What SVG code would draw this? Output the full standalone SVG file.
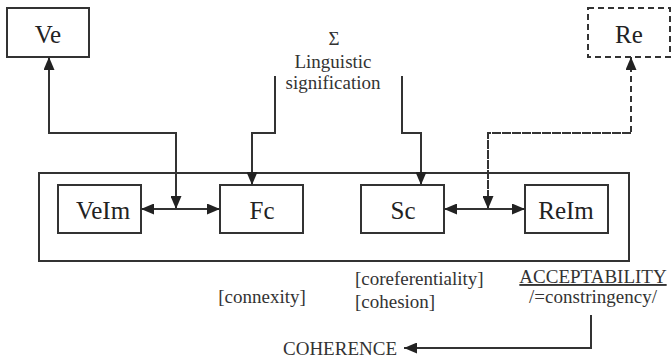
<svg xmlns="http://www.w3.org/2000/svg" width="671" height="359" viewBox="0 0 671 359">
<defs>
<marker id="ah" markerUnits="userSpaceOnUse" markerWidth="13" markerHeight="11" refX="13" refY="5.5" orient="auto-start-reverse" viewBox="0 0 13 11">
<path d="M0,0 L13,5.5 L0,11 z" fill="#222"/>
</marker>
</defs>
<style>
.box{fill:#fff;stroke:#333;stroke-width:2}
.dash{stroke-dasharray:6 4}
.lbl{font-family:"Liberation Serif","Times New Roman",serif;font-size:25px;fill:#222;text-anchor:middle}
.txt{font-family:"Liberation Serif","Times New Roman",serif;font-size:19px;fill:#333}
.c{text-anchor:middle}
.ln{fill:none;stroke:#333;stroke-width:2}
</style>
<rect width="671" height="359" fill="#fff"/>
<g id="frame"><rect class="box" x="39" y="173" width="590" height="88"/></g>
<g id="Ve"><rect class="box" x="7" y="8" width="82" height="49"/><text class="lbl" x="48" y="43">Ve</text></g>
<g id="Re"><rect class="box dash" x="588" y="8" width="82" height="49"/><text class="lbl" x="629" y="43">Re</text></g>
<g id="VeIm"><rect class="box" x="58" y="185" width="83" height="48"/><text class="lbl" x="103" y="219">VeIm</text></g>
<g id="Fc"><rect class="box" x="220" y="185" width="83" height="48"/><text class="lbl" x="262" y="219">Fc</text></g>
<g id="Sc"><rect class="box" x="361" y="185" width="83" height="48"/><text class="lbl" x="403" y="219">Sc</text></g>
<g id="ReIm"><rect class="box" x="525" y="185" width="83" height="48"/><text class="lbl" x="566" y="219">ReIm</text></g>
<g id="signification"><text class="txt c" x="334" y="45">Σ</text><text class="txt c" x="333" y="68">Linguistic</text><text class="txt c" x="333" y="89">signification</text></g>
<g id="labels">
<text class="txt c" x="262" y="303">[connexity]</text>
<text class="txt" x="355" y="285">[coreferentiality]</text>
<text class="txt" x="355" y="308">[cohesion]</text>
<text class="txt c" x="593" y="283" text-decoration="underline">ACCEPTABILITY</text>
<text class="txt c" x="593" y="303">/=constringency/</text>
<text class="txt" x="283" y="355">COHERENCE</text>
</g>
<g id="connectors">
<path class="ln" d="M176,209 V133 H49 V57" marker-end="url(#ah)"/>
<path class="ln" d="M176,133 V209" marker-end="url(#ah)"/>
<path class="ln" d="M141,209 H220" marker-start="url(#ah)" marker-end="url(#ah)"/>
<path class="ln" d="M275,76 V133 H252 V185" marker-end="url(#ah)"/>
<path class="ln" d="M402,76 V133 H421 V185" marker-end="url(#ah)"/>
<path class="ln dash" d="M488,209 V133 H631 V57" marker-end="url(#ah)"/>
<path class="ln dash" d="M631,133 H488 V209" marker-end="url(#ah)"/>
<path class="ln" d="M444,209 H525" marker-start="url(#ah)" marker-end="url(#ah)"/>
<path class="ln" d="M591,315 V348 H404" marker-end="url(#ah)"/>
</g>
</svg>
